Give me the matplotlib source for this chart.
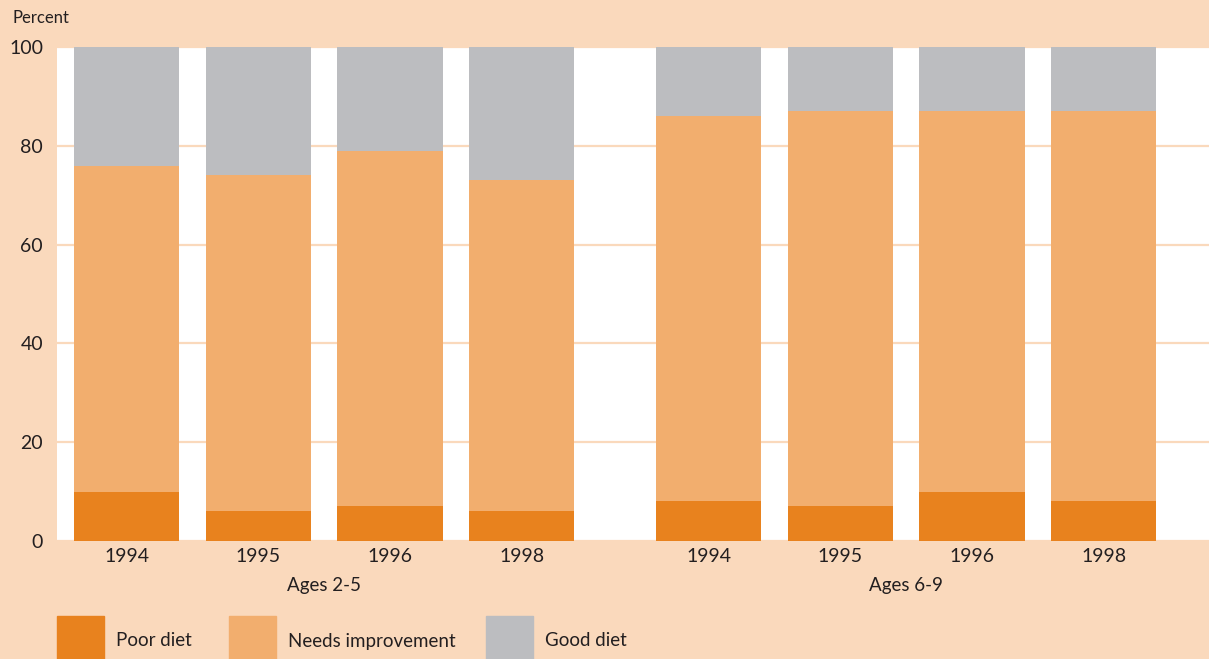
import numpy as np
import matplotlib.pyplot as plt
from matplotlib.patches import Rectangle

# Dữ liệu
years = ["1994", "1995", "1996", "1998"]
groups = ["Ages 2-5", "Ages 6-9"]
series = ["Poor diet", "Needs improvement", "Good diet"]
poor = [10, 6, 7, 6, 8, 7, 10, 8]
needs = [66, 68, 72, 67, 78, 80, 77, 79]
good = [24, 26, 21, 27, 14, 13, 13, 13]

colors = ["#E8821E", "#F2AE6E", "#BCBDC0"]
bg = "#FAD9BC"

plt.rcParams['font.family'] = ['Lato', 'DejaVu Sans']

fig = plt.figure(figsize=(12.09, 6.59), dpi=100, facecolor=bg)
ax = fig.add_axes([57 / 1209, 118 / 659, 1 - 57 / 1209, (541 - 47) / 659])
ax.set_facecolor("white")

# vị trí cột: 4 cột mỗi nhóm, có khoảng trống giữa hai nhóm
gap = 0.42
x = np.array([i + (gap if i >= len(years) else 0) for i in range(len(poor))], dtype=float)
w = 0.8

poor = np.array(poor)
needs = np.array(needs)
good = np.array(good)
ax.bar(x, poor, width=w, color=colors[0], zorder=3)
ax.bar(x, needs, width=w, bottom=poor, color=colors[1], zorder=3)
ax.bar(x, good, width=w, bottom=poor + needs, color=colors[2], zorder=3)

ax.set_ylim(0, 100)
ax.set_xlim(-0.528, 8.22)
ax.set_yticks([0, 20, 40, 60, 80, 100])
ax.yaxis.grid(True, color=bg, linewidth=1.6, zorder=1)
ax.set_axisbelow(True)
for s in ax.spines.values():
    s.set_visible(False)
ax.tick_params(length=0, labelsize=14, colors="#231F20")
ax.tick_params(axis='y', pad=10)
ax.tick_params(axis='x', pad=5)
ax.set_xticks(x)
ax.set_xticklabels(years * len(groups))

# nhãn nhóm
for g, name in enumerate(groups):
    cx = x[g * 4:(g + 1) * 4].mean()
    ax.text(cx, -9, name, ha="center", va="center", fontsize=13.5,
            color="#231F20", transform=ax.transData, clip_on=False)

fig.text(12 / 1209, 1 - 18 / 659, "Percent", ha="left", va="center",
         fontsize=12, color="#231F20")

# chú thích
leg_x = [57, 229, 486]
for lx, name, c in zip(leg_x, series, colors):
    fig.patches.append(Rectangle((lx / 1209, 0), 47 / 1209, 43 / 659,
                                 transform=fig.transFigure, color=c))
    fig.text((lx + 59) / 1209, 1 - 641 / 659, name, ha="left", va="center",
             fontsize=13.5, color="#231F20")

fig.savefig("out.png", dpi=100, facecolor=bg)
